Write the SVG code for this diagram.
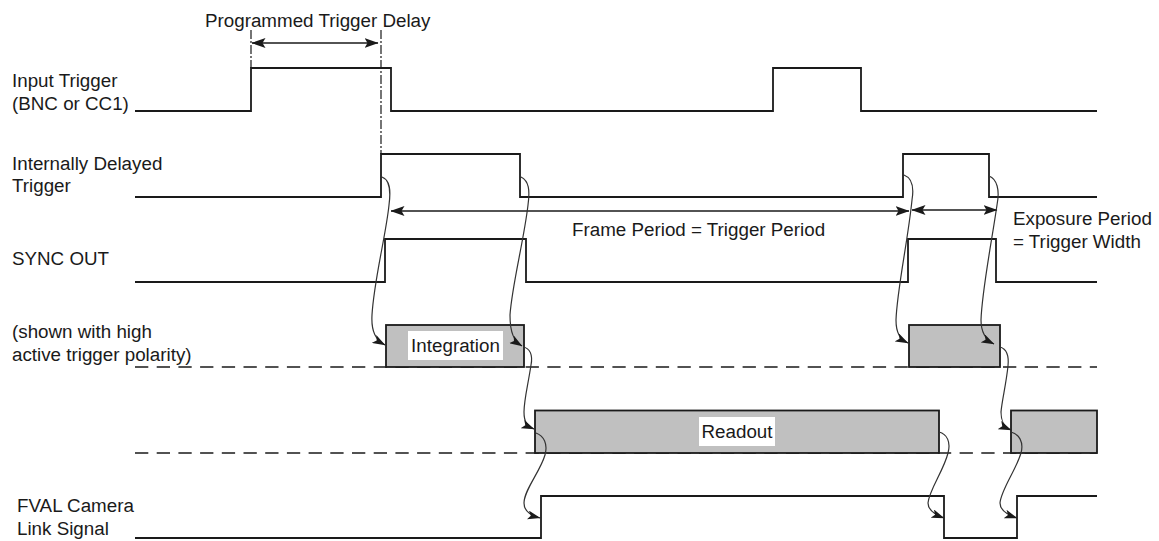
<svg xmlns="http://www.w3.org/2000/svg" width="1159" height="541" viewBox="0 0 1159 541">
<style>
text{font-family:"Liberation Sans",Arial,sans-serif;font-size:18.8px;fill:#1a1a1a}
.wave{fill:none;stroke:#1a1a1a;stroke-width:1.8}
.base{fill:none;stroke:#1a1a1a;stroke-width:1.6;stroke-dasharray:13.3 8.4}
.box{fill:#c0c0c0;stroke:#1a1a1a;stroke-width:1.8}
.lbl{fill:#ffffff;stroke:none}
.dd{fill:none;stroke:#1a1a1a;stroke-width:1.2;stroke-dasharray:9 2 2 2}
.dim{fill:none;stroke:#1a1a1a;stroke-width:1.6;marker-start:url(#ah);marker-end:url(#ah)}
.cv{fill:none;stroke:#333;stroke-width:1.2;marker-end:url(#ch)}
</style>
<defs>
<marker id="ah" markerUnits="userSpaceOnUse" viewBox="0 0 14 10" markerWidth="14" markerHeight="10" refX="13.5" refY="5" orient="auto-start-reverse">
<path d="M0,0 L14,5 L0,10 L3,5 z" fill="#1a1a1a"/>
</marker>
<marker id="ch" markerUnits="userSpaceOnUse" viewBox="0 0 13 9" markerWidth="13" markerHeight="9" refX="12.5" refY="4.5" orient="auto">
<path d="M0,0 L13,4.5 L0,9 L3,4.5 z" fill="#1a1a1a"/>
</marker>
</defs>

<g id="labels">
<text x="205" y="27">Programmed Trigger Delay</text>
<text x="12" y="87">Input Trigger</text>
<text x="12" y="110">(BNC or CC1)</text>
<text x="12" y="170">Internally Delayed</text>
<text x="12" y="192">Trigger</text>
<text x="12" y="265">SYNC OUT</text>
<text x="12" y="338">(shown with high</text>
<text x="12" y="361">active trigger polarity)</text>
<text x="17" y="512">FVAL Camera</text>
<text x="17" y="535">Link Signal</text>
<text x="572" y="236">Frame Period = Trigger Period</text>
<text x="1013" y="225">Exposure Period</text>
<text x="1013" y="248">= Trigger Width</text>
</g>

<g id="input-trigger">
<path class="wave" d="M135,111 H251 V68 H391 V111 H773 V68 H861 V111 H1097"/>
</g>
<g id="delayed-trigger">
<path class="wave" d="M135,197 H381 V154 H520 V197 H903 V154 H989 V197 H1097"/>
</g>
<g id="sync-out">
<path class="wave" d="M135,282 H385 V239 H526 V282 H908 V239 H996 V282 H1097"/>
</g>

<g id="integration">
<path class="base" d="M135,367 H1097"/>
<rect class="box" x="386" y="325" width="138" height="42"/>
<rect class="lbl" x="408" y="331" width="95" height="29"/>
<text x="455.5" y="352" text-anchor="middle">Integration</text>
<rect class="box" x="909" y="325" width="91" height="42"/>
</g>

<g id="readout">
<path class="base" d="M135,453 H1097"/>
<rect class="box" x="535" y="410.5" width="404" height="42.5"/>
<rect class="lbl" x="699" y="417" width="76" height="29"/>
<text x="737" y="438" text-anchor="middle">Readout</text>
<rect class="box" x="1011" y="410.5" width="86" height="42.5"/>
</g>

<g id="fval">
<path class="wave" d="M135,538 H541 V496 H944 V538 H1017 V496 H1097"/>
</g>

<g id="connectors">
<path class="dd" d="M251,30 V68"/>
<path class="dd" d="M381,30 V154"/>
<path class="dim" d="M252,43 H378"/>
<path class="dim" d="M391,211 H909"/>
<path class="dim" d="M912,210 H997"/>
<path class="cv" d="M382,177 C390,180 391,190 389,205 C386,235 374,280 372,315 C371,332 376,340 385,345"/>
<path class="cv" d="M521,177 C529,181 530,190 528,205 C524,240 512,285 510,315 C510,333 514,341 522,346"/>
<path class="cv" d="M523,347 C530,348 533,355 531,365 C528,385 524,400 524,412 C524,422 527,426 534,429"/>
<path class="cv" d="M536,433 C544,436 548,444 545,455 C540,472 524,490 524,503 C524,512 532,516 540,518"/>
<path class="cv" d="M904,175 C912,178 914,188 912,200 C908,240 897,290 896,320 C896,333 900,339 908,343"/>
<path class="cv" d="M989,176 C997,179 1000,190 997,205 C992,240 982,290 981,320 C981,333 986,340 994,344"/>
<path class="cv" d="M1000,347 C1007,349 1009,356 1008,366 C1006,385 1002,400 1001,412 C1001,422 1004,427 1011,430"/>
<path class="cv" d="M939,432 C947,434 951,442 948,453 C944,470 929,490 928,503 C928,511 936,515 944,518"/>
<path class="cv" d="M1011,432 C1019,434 1024,442 1021,453 C1016,470 1001,490 1000,503 C1000,511 1008,515 1017,518"/>
</g>
</svg>
